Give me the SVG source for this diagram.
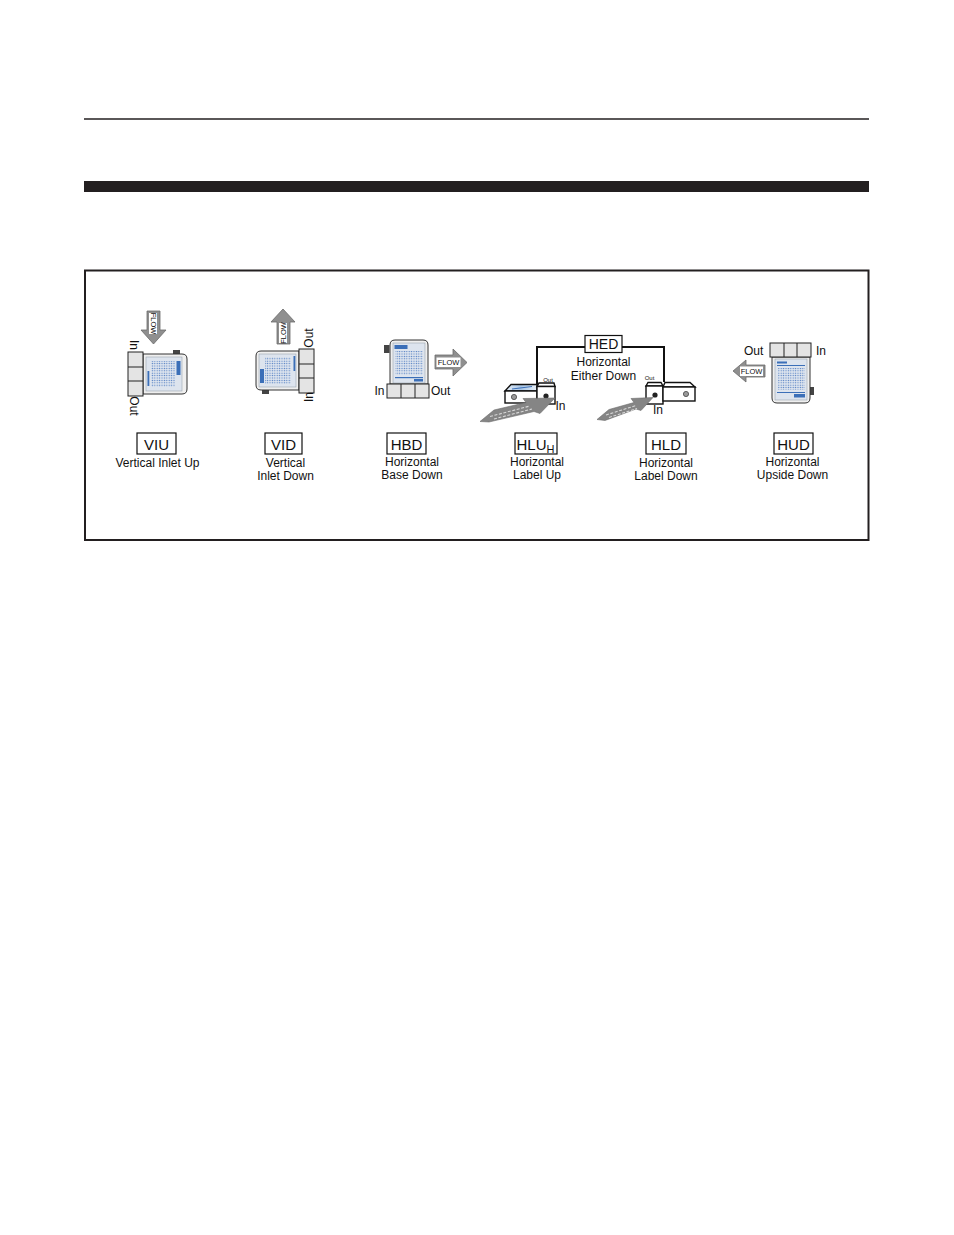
<svg xmlns="http://www.w3.org/2000/svg" width="954" height="1235" viewBox="0 0 954 1235">
<style>
  text { font-family: "Liberation Sans", Arial, Helvetica, sans-serif; fill: #111; }
  .code { font-size: 15px; text-anchor: middle; }
  .desc { font-size: 12px; text-anchor: middle; }
  .port { font-size: 12px; }
  .tiny { font-size: 6px; text-anchor: middle; }
  .flowtxt { font-size: 7.5px; text-anchor: middle; }
  .lbox { fill: #fff; stroke: #111; stroke-width: 1.2; }
  .body { fill: #efefef; stroke: #333; stroke-width: 1; }
  .panel { fill: #dde4ee; stroke: #9aa3ad; stroke-width: 0.6; }
  .cell { fill: #e4e4e4; stroke: #222; stroke-width: 1; }
  .tab { fill: #444; }
  .blue { fill: #3b6fb8; }
  .flow { fill: #8f8f8f; stroke: #6b6b6b; stroke-width: 0.8; }
  .flowbox { fill: #fff; }
  .box3d { fill: #fff; stroke: #111; stroke-width: 1.4; }
  .stripe { fill: #858585; stroke: #6b6b6b; stroke-width: 0.6; }
  .dash { fill: none; stroke: #d8d8d8; stroke-width: 1.1; stroke-dasharray: 3,1.6; }
  .conn { fill: none; stroke: #111; stroke-width: 2; }
</style>
<defs>
  <pattern id="dots" width="2.4" height="2.4" patternUnits="userSpaceOnUse">
    <circle cx="1.2" cy="1.2" r="0.65" fill="#4a78c0"/>
  </pattern>
  <linearGradient id="topface" x1="0" y1="0" x2="1" y2="0">
    <stop offset="0" stop-color="#e8f0f8"/>
    <stop offset="0.5" stop-color="#a9c6e6"/>
    <stop offset="1" stop-color="#e8f0f8"/>
  </linearGradient>
</defs>

<!-- page rules -->
<line x1="84" y1="119" x2="869" y2="119" stroke="#231f20" stroke-width="1.5"/>
<rect x="84" y="181" width="785" height="11" fill="#231f20"/>
<rect x="85" y="270.5" width="783.5" height="269.5" fill="none" stroke="#231f20" stroke-width="2"/>

<!-- connectors -->
<g id="connectors">
  <path class="conn" d="M537,386 V347 H585"/>
  <path class="conn" d="M622,347 H664 V382"/>
</g>

<!-- VIU -->
<g id="viu">
  <polygon class="flow" points="147,311 160,311 160,330 166,330 153.5,344 141,330 147,330"/>
  <rect class="flowbox" x="149" y="313" width="8" height="21"/>
  <text class="flowtxt" transform="translate(151.2,323.5) rotate(90)">FLOW</text>
  <rect class="tab" x="173" y="350" width="7" height="4.5"/>
  <path class="body" d="M143,354 H182 Q187,354 187,359 V389 Q187,394 182,394 H143 Z"/>
  <rect class="panel" x="146" y="357" width="36" height="34"/>
  <rect x="151" y="361" width="24" height="26" fill="url(#dots)"/>
  <rect class="blue" x="147.5" y="371" width="1.8" height="15"/>
  <rect class="blue" x="176.5" y="361" width="4" height="14"/>
  <rect class="cell" x="128" y="352" width="15" height="44"/>
  <line x1="128" y1="367" x2="143" y2="367" stroke="#222" stroke-width="1"/>
  <line x1="128" y1="381" x2="143" y2="381" stroke="#222" stroke-width="1"/>
  <text class="port" text-anchor="middle" transform="translate(129.5,345) rotate(90)">In</text>
  <text class="port" text-anchor="middle" transform="translate(129.5,406) rotate(90)">Out</text>
  <rect class="lbox" x="137" y="433" width="39" height="21"/>
  <text class="code" x="156.5" y="449.5">VIU</text>
  <text class="desc" x="157.5" y="467">Vertical Inlet Up</text>
</g>

<!-- VID -->
<g id="vid">
  <polygon class="flow" points="283,309 295,322 290,322 290,344 277,344 277,322 271,322"/>
  <rect class="flowbox" x="279" y="323" width="8" height="20"/>
  <text class="flowtxt" transform="translate(285.8,333) rotate(-90)">FLOW</text>
  <rect class="tab" x="262" y="389.5" width="7" height="4.5"/>
  <path class="body" d="M299,351 H261 Q256,351 256,356 V385 Q256,390 261,390 H299 Z"/>
  <rect class="panel" x="259" y="354" width="37" height="33"/>
  <rect x="265" y="357" width="26" height="27" fill="url(#dots)"/>
  <rect class="blue" x="293.5" y="356" width="1.8" height="15"/>
  <rect class="blue" x="260" y="369" width="4" height="14"/>
  <rect class="cell" x="299" y="349" width="15" height="44"/>
  <line x1="299" y1="364" x2="314" y2="364" stroke="#222" stroke-width="1"/>
  <line x1="299" y1="378" x2="314" y2="378" stroke="#222" stroke-width="1"/>
  <text class="port" text-anchor="middle" transform="translate(312.5,338) rotate(-90)">Out</text>
  <text class="port" text-anchor="middle" transform="translate(312.5,397) rotate(-90)">In</text>
  <rect class="lbox" x="265" y="433" width="37" height="21"/>
  <text class="code" x="283.5" y="449.5">VID</text>
  <text class="desc" x="285.5" y="467">Vertical</text>
  <text class="desc" x="285.5" y="480">Inlet Down</text>
</g>

<!-- HBD -->
<g id="hbd">
  <rect class="tab" x="384" y="345" width="5.5" height="8"/>
  <path class="body" d="M390,384 V345 Q390,340 395,340 H423 Q428,340 428,345 V384 Z"/>
  <rect class="panel" x="393" y="343" width="32" height="40"/>
  <rect class="blue" x="394.5" y="345" width="13" height="4"/>
  <rect x="395" y="351" width="28" height="24" fill="url(#dots)"/>
  <rect class="blue" x="395" y="377" width="28" height="1.2"/>
  <rect class="blue" x="414" y="379" width="9" height="2.5"/>
  <rect class="cell" x="387" y="384" width="42" height="14"/>
  <line x1="401" y1="384" x2="401" y2="398" stroke="#222" stroke-width="1"/>
  <line x1="415" y1="384" x2="415" y2="398" stroke="#222" stroke-width="1"/>
  <text class="port" x="374.5" y="394.5">In</text>
  <text class="port" x="431" y="394.5">Out</text>
  <polygon class="flow" points="435,355 453,355 453,349 467,362.5 453,376 453,369 435,369"/>
  <rect class="flowbox" x="436.5" y="357.5" width="24" height="9.5"/>
  <text class="flowtxt" x="448.5" y="365.2">FLOW</text>
  <rect class="lbox" x="387" y="433" width="39" height="21"/>
  <text class="code" x="406.5" y="449.5">HBD</text>
  <text class="desc" x="412" y="466">Horizontal</text>
  <text class="desc" x="412" y="479">Base Down</text>
</g>

<!-- HED -->
<g id="hed">
  <rect class="lbox" x="585" y="335.5" width="37" height="17"/>
  <text x="603.5" y="349" font-size="14" text-anchor="middle">HED</text>
  <text class="desc" x="603.5" y="366">Horizontal</text>
  <text class="desc" x="603.5" y="379.5">Either Down</text>
</g>

<!-- HLU -->
<g id="hlu">
  <polygon class="box3d" points="505,391 511,384.5 537,384.5 537,391" style="fill:url(#topface)"/>
  <line x1="512" y1="389" x2="532" y2="386.5" stroke="#3b6fb8" stroke-width="1"/>
  <rect class="box3d" x="505" y="391" width="32" height="12"/>
  <circle cx="514" cy="397" r="2.6" fill="#9a9a9a" stroke="#444" stroke-width="0.8"/>
  <polygon class="box3d" points="537,386.5 539,383 554,383 555,386.5"/>
  <rect class="box3d" x="537" y="386.5" width="18" height="17.5"/>
  <circle cx="546" cy="396" r="2.6" fill="#222"/>
  <text class="tiny" x="548" y="381.5">Out</text>
  <text class="port" x="555.5" y="410">In</text>
  <polygon class="stripe" points="480,421.5 494,410 526,402.5 523,398.5 555,398 540,413.5 534,411.5 489,422"/>
  <path class="dash" d="M490,416.5 L530,406"/>
  <path class="dash" d="M494,419 L532,409"/>
  <rect class="lbox" x="515" y="433" width="42" height="21"/>
  <text x="516.5" y="449.5" font-size="15">HLU<tspan font-size="11" dy="3.5">H</tspan></text>
  <text class="desc" x="537" y="466">Horizontal</text>
  <text class="desc" x="537" y="479">Label Up</text>
</g>

<!-- HLD -->
<g id="hld">
  <polygon class="box3d" points="646,386 648,382.5 661,382.5 663,386"/>
  <rect class="box3d" x="646" y="386" width="17" height="18"/>
  <circle cx="655" cy="395" r="2.6" fill="#222"/>
  <polygon class="box3d" points="663,387 665,382.5 690,382.5 695,387"/>
  <rect class="box3d" x="663" y="387" width="32" height="14"/>
  <circle cx="686" cy="394" r="2.6" fill="#9a9a9a" stroke="#444" stroke-width="0.8"/>
  <text class="tiny" x="649.5" y="380">Out</text>
  <text class="port" x="653" y="413.5">In</text>
  <polygon class="stripe" points="597,419.5 609,409.5 634,402.5 631,398.5 653,397.5 641,410.5 636,409 605,420.5"/>
  <path class="dash" d="M606,415 L636,405.5"/>
  <path class="dash" d="M609,417.5 L637,408.5"/>
  <rect class="lbox" x="646" y="433" width="40" height="21"/>
  <text class="code" x="666" y="449.5">HLD</text>
  <text class="desc" x="666" y="466.5">Horizontal</text>
  <text class="desc" x="666" y="480">Label Down</text>
</g>

<!-- HUD -->
<g id="hud">
  <rect class="tab" x="809.5" y="387" width="4.5" height="8"/>
  <path class="body" d="M772,357 V398 Q772,403 777,403 H805 Q810,403 810,398 V357 Z"/>
  <rect class="panel" x="775" y="359" width="32" height="41"/>
  <rect class="blue" x="777" y="361.5" width="10" height="2"/>
  <rect class="blue" x="777" y="365" width="28" height="1"/>
  <rect x="778" y="368" width="27" height="22" fill="url(#dots)"/>
  <rect class="blue" x="777" y="392" width="28" height="1"/>
  <rect class="blue" x="794" y="394" width="11" height="3.5"/>
  <rect class="cell" x="770" y="343" width="41" height="14"/>
  <line x1="784" y1="343" x2="784" y2="357" stroke="#222" stroke-width="1"/>
  <line x1="797" y1="343" x2="797" y2="357" stroke="#222" stroke-width="1"/>
  <text class="port" x="744" y="355">Out</text>
  <text class="port" x="816" y="355">In</text>
  <polygon class="flow" points="733,371 746,360 746,365 765,365 765,377 746,377 746,382"/>
  <rect class="flowbox" x="740" y="366.5" width="23" height="9.5"/>
  <text class="flowtxt" x="751.5" y="374.2">FLOW</text>
  <rect class="lbox" x="774" y="433" width="39" height="21"/>
  <text class="code" x="793.5" y="449.5">HUD</text>
  <text class="desc" x="792.5" y="466">Horizontal</text>
  <text class="desc" x="792.5" y="479">Upside Down</text>
</g>
</svg>
